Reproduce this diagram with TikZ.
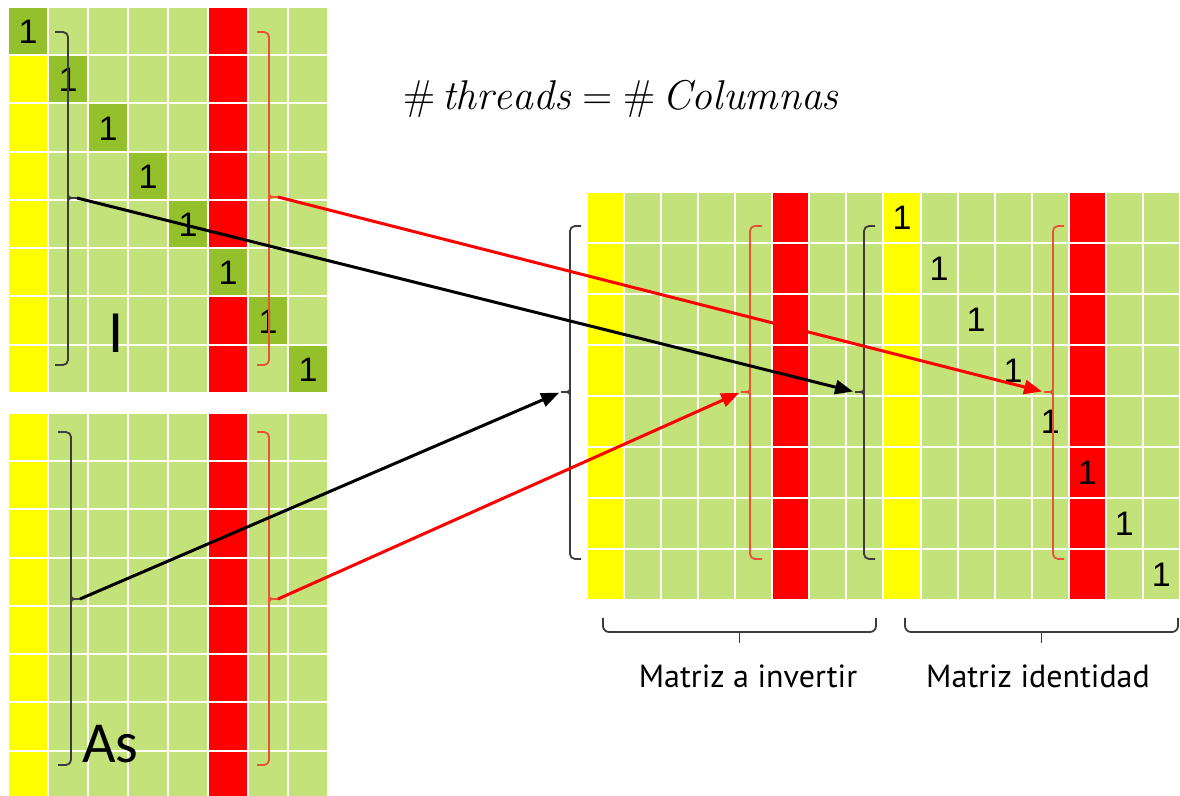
\documentclass[tikz,border=0pt]{standalone}
\usepackage{fontspec}
\usepackage{amsmath}
\setsansfont{PT Sans}
\newfontfamily\digitfont{Liberation Sans}
\newfontfamily\labelfont{Carlito}
\usetikzlibrary{arrows.meta}

\definecolor{cellgreen}{RGB}{195,226,122}
\definecolor{diaggreen}{RGB}{148,192,44}
\definecolor{coly}{RGB}{255,255,0}
\definecolor{colr}{RGB}{255,0,0}
\definecolor{brkblack}{RGB}{60,60,60}
\definecolor{brkred}{RGB}{232,84,52}

% one cell of a grid: x0, y0, width, height, column, row, colour
\newcommand\gcell[7]{%
  \fill[#7] ({#1+#3*#5+1},{#2+#4*#6+1}) rectangle ({#1+#3*(#5+1)-1},{#2+#4*(#6+1)-1});}

% bracket opening to the left, tip pointing right:
% colour, hook x, spine x, top, middle, bottom, tip name
\newcommand\brkRight[7]{%
  \draw[#1, rounded corners=2.5] (#2,#4) -- (#3,#4) -- (#3,#6) -- (#2,#6);
  \draw[#1] (#3,{#5-6}) .. controls (#3,#5) .. ({#3+9},#5);
  \draw[#1] (#3,{#5+6}) .. controls (#3,#5) .. ({#3+9},#5);
  \coordinate (#7) at ({#3+9},#5);}

% bracket opening to the right, tip pointing left
\newcommand\brkLeft[7]{%
  \draw[#1, rounded corners=2.5] (#2,#4) -- (#3,#4) -- (#3,#6) -- (#2,#6);
  \draw[#1] (#3,{#5-6}) .. controls (#3,#5) .. ({#3-9},#5);
  \draw[#1] (#3,{#5+6}) .. controls (#3,#5) .. ({#3-9},#5);
  \coordinate (#7) at ({#3-9},#5);}

\begin{document}
\begin{tikzpicture}[x=0.5pt, y=-0.5pt,
  one/.style={font=\digitfont\fontsize{17}{19}\selectfont, inner sep=0pt},
  brk/.style={line width=0.9pt, brkblack},
  brkr/.style={line width=0.9pt, brkred},
  link/.style={line width=1.5pt, -{Triangle[length=9pt,width=7pt]}, shorten >=1pt}]

\useasboundingbox (0,0) rectangle (1180,796);
\clip (0,0) rectangle (1180,796);

% ---- matrix I (top left) ----
\foreach \c in {0,...,7}{\foreach \r in {0,...,7}{\gcell{8}{7}{40}{48.25}{\c}{\r}{cellgreen}}}
\foreach \r in {1,...,7}{\gcell{8}{7}{40}{48.25}{0}{\r}{coly}}
\foreach \r in {0,...,7}{\gcell{8}{7}{40}{48.25}{5}{\r}{colr}}
\foreach \i in {0,...,7}{%
  \gcell{8}{7}{40}{48.25}{\i}{\i}{diaggreen}
  \node[one] (oneI\i) at ({8+40*\i+20},{7+48.25*\i+25}) {1};}
\node[font=\labelfont\fontsize{30}{32}\selectfont, inner sep=0pt] (labI) at (116,333) {I};

% ---- matrix As (bottom left) ----
\foreach \c in {0,...,7}{\foreach \r in {0,...,7}{\gcell{8}{413}{40}{48.25}{\c}{\r}{cellgreen}}}
\foreach \r in {0,...,7}{\gcell{8}{413}{40}{48.25}{0}{\r}{coly}}
\foreach \r in {0,...,7}{\gcell{8}{413}{40}{48.25}{5}{\r}{colr}}
\node[font=\labelfont\fontsize{29}{32}\selectfont, inner sep=0pt, anchor=base west] (labAs) at (82,763) {As};

% ---- augmented matrix (right) ----
\foreach \c in {0,...,15}{\foreach \r in {0,...,7}{\gcell{587}{192}{37.06}{51}{\c}{\r}{cellgreen}}}
\foreach \c in {0,8}{\foreach \r in {0,...,7}{\gcell{587}{192}{37.06}{51}{\c}{\r}{coly}}}
\foreach \c in {5,13}{\foreach \r in {0,...,7}{\gcell{587}{192}{37.06}{51}{\c}{\r}{colr}}}
\foreach \i in {0,...,7}{%
  \node[one] (oneR\i) at ({587+37.06*(8+\i)+18.5},{192+51*\i+26}) {1};}

% ---- formula ----
\node[inner sep=0pt] (formula) at (621,99)
  {\fontsize{20.8}{24}\selectfont $\#\,\mathit{threads} = \#\,\mathit{Columnas}$};

% ---- brackets ----
\brkRight{brk}{55}{68}{32}{198}{365}{tIk}
\brkRight{brkr}{257}{269}{32}{197}{365}{tIr}
\brkRight{brk}{58}{71}{432}{599}{765}{tAk}
\brkRight{brkr}{257}{269}{432}{599}{765}{tAr}
\brkLeft{brk}{581}{570}{226}{392}{559}{hBig}
\brkLeft{brkr}{762}{750}{226}{392}{559}{hInvR}
\brkLeft{brk}{875}{864}{226}{392}{559}{hInvK}
\brkLeft{brkr}{1064}{1053}{226}{392}{559}{hIdR}

% ---- underbraces and captions ----
\draw[brk, rounded corners=3] (603,618) -- (603,632) -- (876,632) -- (876,618);
\draw[brk] (739.5,632) -- (739.5,643);
\draw[brk, rounded corners=3] (905,618) -- (905,632) -- (1178,632) -- (1178,618);
\draw[brk] (1041.5,632) -- (1041.5,643);
\node[font=\sffamily\fontsize{16}{18}\selectfont, inner sep=0pt] (capA) at (748,676) {Matriz a invertir};
\node[font=\sffamily\fontsize{16}{18}\selectfont, inner sep=0pt] (capB) at (1038,676) {Matriz identidad};

% ---- connectors ----
\draw[link, black] (tIk) -- (hInvK);
\draw[link, red] (tIr) -- (hIdR);
\draw[link, black] (tAk) -- (hBig);
\draw[link, red] (tAr) -- (hInvR);
\end{tikzpicture}
\end{document}
